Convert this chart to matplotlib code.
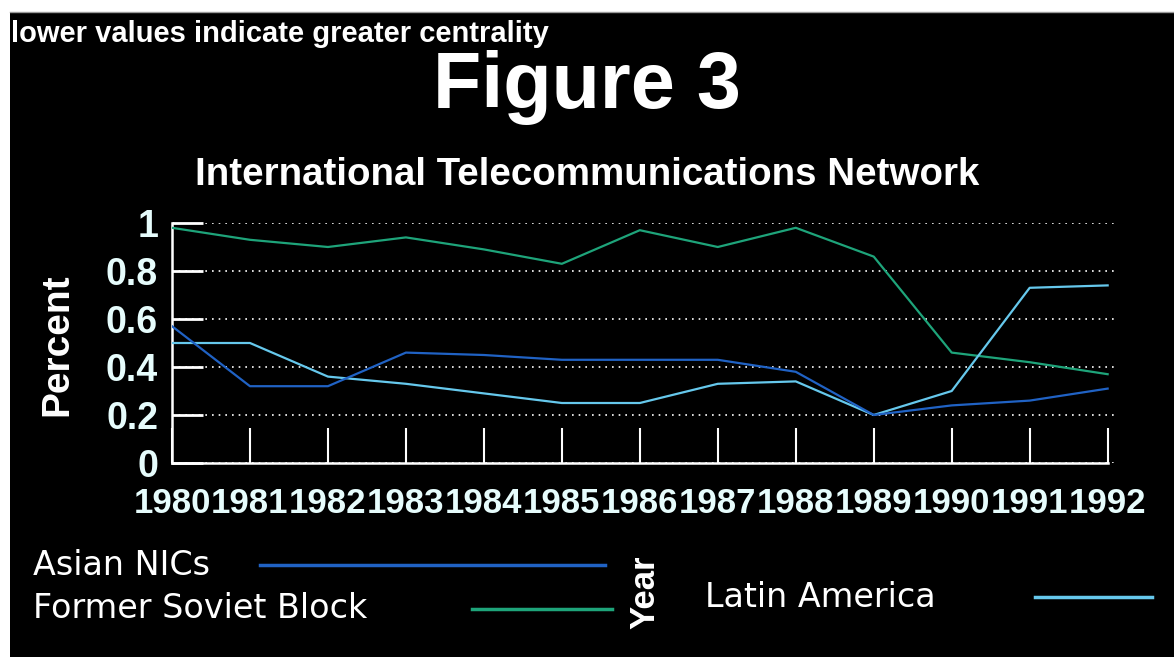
import matplotlib
matplotlib.use("Agg")
import matplotlib.pyplot as plt
from matplotlib.lines import Line2D
from matplotlib.patches import Rectangle

# data
years = [1980, 1981, 1982, 1983, 1984, 1985, 1986, 1987, 1988, 1989, 1990, 1991, 1992]
asian_nics = [0.57, 0.32, 0.32, 0.46, 0.45, 0.43, 0.43, 0.43, 0.38, 0.20, 0.24, 0.26, 0.31]
soviet_block = [0.98, 0.93, 0.90, 0.94, 0.89, 0.83, 0.97, 0.90, 0.98, 0.86, 0.46, 0.42, 0.37]
latin_america = [0.50, 0.50, 0.36, 0.33, 0.29, 0.25, 0.25, 0.33, 0.34, 0.20, 0.30, 0.73, 0.74]
y_ticks = [0, 0.2, 0.4, 0.6, 0.8, 1]
y_tick_labels = ["0", "0.2", "0.4", "0.6", "0.8", "1"]

C = {
    "bg": "#000000",
    "asian": "#2062c4",
    "soviet": "#1ea47a",
    "latin": "#66c8ec",
    "tick": "#e6fcfc",
    "text": "#ffffff",
}
FONT = "Liberation Sans"

W, H = 1174, 657
fig = plt.figure(figsize=(W / 100, H / 100), dpi=100)
fig.patch.set_facecolor("#ffffff")


def fx(x):
    return x / W


def fy(y):
    return 1 - y / H


# black panel with the white strip on top and left
fig.add_artist(Rectangle((fx(10), 0), 1, fy(12), transform=fig.transFigure,
                         facecolor=C["bg"], edgecolor="none", zorder=0))
fig.add_artist(Line2D([fx(10), 1], [fy(12), fy(12)], transform=fig.transFigure,
                      color="#9a9a9a", lw=1))

ax = fig.add_axes([fx(172), fy(463), (1117 - 172) / W, 240 / H])
ax.set_facecolor(C["bg"])

ax.plot(years, soviet_block, color=C["soviet"], lw=1.6, zorder=3)
ax.plot(years, latin_america, color=C["latin"], lw=1.6, zorder=3)
ax.plot(years, asian_nics, color=C["asian"], lw=1.6, zorder=3)

ax.set_xlim(1980, 1992.12)
ax.set_ylim(0, 1)
ax.spines["top"].set_visible(False)
ax.spines["right"].set_visible(False)
for s in ["left", "bottom"]:
    ax.spines[s].set_color("#ffffff")
    ax.spines[s].set_linewidth(1.8)
ax.spines["bottom"].set_bounds(1980, 1992)

ax.set_yticks(y_ticks)
ax.set_yticklabels(y_tick_labels)
ax.set_xticks(years)
ax.set_xticklabels([str(y) for y in years])
ax.tick_params(axis="y", direction="in", length=22, width=2, color="#ffffff",
               labelcolor=C["tick"], labelsize=27, pad=10)
ax.tick_params(axis="x", direction="in", length=25, width=1.5, color="#ffffff",
               labelcolor=C["tick"], labelsize=25, pad=17)
for lab in ax.get_yticklabels() + ax.get_xticklabels():
    lab.set_fontfamily(FONT)
    lab.set_fontweight("bold")

ax.yaxis.grid(True, linestyle=(0, (1, 3)), color="#ffffff", lw=1.2, zorder=1)
ax.xaxis.grid(False)

# axis titles
fig.text(fx(57), fy(345), "Percent", rotation=90, ha="center", va="center",
         fontsize=28, fontweight="bold", color=C["text"], family=FONT)
fig.text(fx(645), fy(592), "Year", rotation=90, ha="center", va="center",
         fontsize=25, fontweight="bold", color=C["text"], family=FONT)

# titles
fig.text(fx(11), fy(42), "lower values indicate greater centrality", ha="left",
         va="baseline", fontsize=21, fontweight="bold", color=C["text"],
         family=FONT)
fig.text(fx(587), fy(108), "Figure 3", ha="center", va="baseline",
         fontsize=57, fontweight="bold", color=C["text"], family=FONT)
fig.text(fx(587), fy(185), "International Telecommunications Network", ha="center",
         va="baseline", fontsize=27.7, fontweight="bold", color=C["text"],
         family=FONT)

# legend, hand placed as in the picture
leg = [
    ("Asian NICs", 33, 575, 260, 605, 565, C["asian"]),
    ("Former Soviet Block", 33, 618, 472, 612, 609, C["soviet"]),
    ("Latin America", 705, 607, 1035, 1152, 597, C["latin"]),
]
for label, tx, ty, x1, x2, ly, col in leg:
    fig.text(fx(tx), fy(ty), label, ha="left", va="baseline", fontsize=24,
             color=C["text"], family="DejaVu Sans")
    fig.add_artist(Line2D([fx(x1), fx(x2)], [fy(ly), fy(ly)],
                          transform=fig.transFigure, color=col, lw=2.5))

fig.savefig("out.png", dpi=100, facecolor=fig.get_facecolor())
